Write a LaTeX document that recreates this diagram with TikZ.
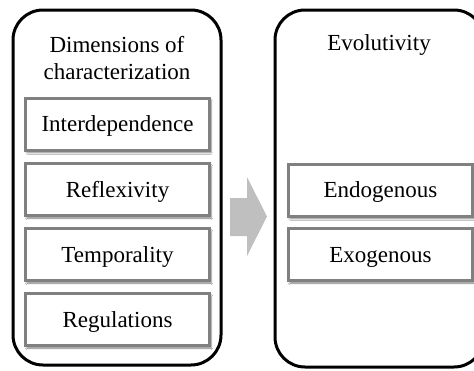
\documentclass[tikz,border=0pt]{standalone}
\usepackage{fontspec}
\setmainfont{Liberation Serif}
\usetikzlibrary{shadows.blur}
\begin{document}
\begin{tikzpicture}[x=1pt,y=-1pt,
  outer/.style={draw=black,line width=3pt,rounded corners=30pt,fill=white},
  item/.style={draw=black!50,line width=3pt,fill=white,
    blur shadow={shadow xshift=1.5pt,shadow yshift=-2.5pt,shadow blur steps=5,shadow opacity=50},
    minimum width=184pt,minimum height=52pt,inner sep=0pt,
    text height=20pt,text depth=5pt,
    font=\fontsize{23}{27}\selectfont},
  ttl/.style={font=\fontsize{23}{27}\selectfont,align=center},
  arr/.style={fill=black!25,draw=none}]
\useasboundingbox (0,0) rectangle (474,370);
\begin{scope}
\clip (0,0) rectangle (474,370);
\draw[outer] (13,10) rectangle (221,365);
\draw[outer] (275,10) rectangle (484,367);
\node[ttl] (t1) at (117,58) {Dimensions of\\characterization};
\node[ttl] (t2) at (379,45) {Evolutivity};
\node[item] (a) at (117.5,124) {Interdependence};
\node[item] (b) at (117.5,189.5) {Reflexivity};
\node[item] (c) at (117.5,254.5) {Temporality};
\node[item] (d) at (117.5,319.5) {Regulations};
\node[item] (e) at (380.5,190) {Endogenous};
\node[item] (f) at (380.5,254.5) {Exogenous};
\coordinate (p1) at (230,198);
\coordinate (p2) at (247,198);
\coordinate (p3) at (247,177);
\coordinate (tip) at (267,216.5);
\coordinate (p5) at (247,256);
\coordinate (p6) at (247,236);
\coordinate (p7) at (230,236);
\fill[arr] (p1) -- (p2) -- (p3) -- (tip) -- (p5) -- (p6) -- (p7) -- cycle;
\end{scope}
\end{tikzpicture}
\end{document}
